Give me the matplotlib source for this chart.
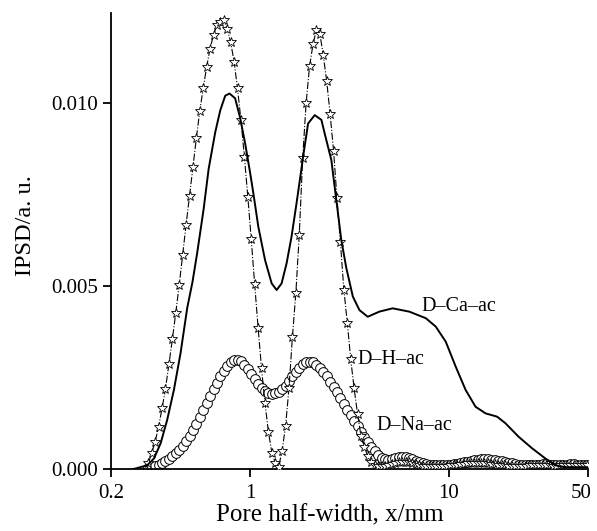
import numpy as np
import matplotlib
matplotlib.use('Agg')
import matplotlib.pyplot as plt
import matplotlib.transforms as mtransforms
from matplotlib.ticker import FixedLocator, FixedFormatter, NullLocator

plt.rcParams['font.family'] = ['Liberation Serif', 'DejaVu Serif']
plt.rcParams['mathtext.fontset'] = 'stix'

# sampling grid of the measured curves (log-spaced pore half-widths)
x_grid = 0.308 * 1.0405 ** np.arange(129)

h_ac = [0.00016, 0.00044, 0.00075, 0.00116, 0.00166, 0.00219, 0.00287, 0.00354, 0.00427, 0.00503,
        0.00585, 0.00667, 0.00746, 0.00826, 0.00904, 0.00979, 0.01040, 0.01099, 0.01149, 0.01186,
        0.01213, 0.01222, 0.01227, 0.01202, 0.01166, 0.01113, 0.01040, 0.00953, 0.00853, 0.00744,
        0.00628, 0.00505, 0.00386, 0.00275, 0.00181, 0.00102, 0.00045, 0.00017, 0.00006, 0.00050,
        0.00117, 0.00220, 0.00360, 0.00480, 0.00640, 0.00850, 0.01000, 0.01100, 0.01160, 0.01200,
        0.01190, 0.01130, 0.01060, 0.00970, 0.00870, 0.00740, 0.00620, 0.00490, 0.00400, 0.00300,
        0.00220, 0.00150, 0.00090, 0.00060, 0.00035, 0.00020, 0.00012, 0.00008, 0.00007, 0.00008,
        0.00010, 0.00013, 0.00016, 0.00018, 0.00019, 0.00019, 0.00018, 0.00016, 0.00013, 0.00011,
        0.00009, 0.00008, 0.00008, 0.00008, 0.00008, 0.00008, 0.00009, 0.00009, 0.00010, 0.00011,
        0.00012, 0.00013, 0.00014, 0.00015, 0.00016, 0.00017, 0.00017, 0.00017, 0.00016, 0.00015,
        0.00014, 0.00013, 0.00012, 0.00011, 0.00010, 0.00009, 0.00009, 0.00008, 0.00008, 0.00008,
        0.00009, 0.00010, 0.00011, 0.00011, 0.00012, 0.00012, 0.00011, 0.00010, 0.00009, 0.00009,
        0.00010, 0.00011, 0.00012, 0.00012, 0.00011, 0.00010, 0.00010, 0.00011, 0.00012]

na_ac = [0.00003, 0.00005, 0.00008, 0.00012, 0.00017, 0.00022, 0.00028, 0.00035, 0.00043, 0.00052,
         0.00063, 0.00076, 0.00091, 0.00107, 0.00124, 0.00142, 0.00160, 0.00180, 0.00199, 0.00218,
         0.00236, 0.00253, 0.00268, 0.00281, 0.00291, 0.00297, 0.00298, 0.00294, 0.00285, 0.00273,
         0.00259, 0.00245, 0.00232, 0.00221, 0.00213, 0.00208, 0.00206, 0.00207, 0.00211, 0.00218,
         0.00228, 0.00240, 0.00253, 0.00266, 0.00277, 0.00286, 0.00291, 0.00293, 0.00291, 0.00285,
         0.00277, 0.00266, 0.00253, 0.00239, 0.00224, 0.00209, 0.00194, 0.00178, 0.00162, 0.00147,
         0.00132, 0.00117, 0.00102, 0.00088, 0.00074, 0.00061, 0.00049, 0.00039, 0.00031, 0.00026,
         0.00025, 0.00027, 0.00030, 0.00032, 0.00033, 0.00032, 0.00030, 0.00027, 0.00023, 0.00019,
         0.00016, 0.00014, 0.00012, 0.00011, 0.00010, 0.00010, 0.00010, 0.00011, 0.00012, 0.00013,
         0.00014, 0.00016, 0.00018, 0.00020, 0.00022, 0.00024, 0.00025, 0.00026, 0.00026, 0.00026,
         0.00025, 0.00024, 0.00023, 0.00021, 0.00019, 0.00017, 0.00015, 0.00013, 0.00012, 0.00011,
         0.00010, 0.00010, 0.00010, 0.00011, 0.00012, 0.00013, 0.00013, 0.00012, 0.00011, 0.00010,
         0.00010, 0.00011, 0.00012, 0.00013, 0.00013, 0.00012, 0.00011, 0.00011, 0.00012]

ca_x = [0.260, 0.304, 0.329, 0.355, 0.383, 0.414, 0.447, 0.483, 0.513, 0.542, 0.584, 0.619,
        0.668, 0.708, 0.750, 0.788, 0.841, 0.891, 0.944, 1.000, 1.039, 1.100, 1.189, 1.284,
        1.360, 1.440, 1.526, 1.616, 1.712, 1.799, 1.847, 1.957, 2.114, 2.283, 2.371, 2.562,
        2.713, 2.874, 3.044, 3.286, 3.548, 3.904, 4.467, 5.206, 6.310, 7.647, 8.581, 9.628,
        10.80, 12.12, 13.60, 15.26, 17.44, 19.21, 22.39, 26.10, 30.45, 34.17, 38.33, 50.0]
ca_ac = [0.0, 0.00010, 0.00029, 0.00070, 0.00134, 0.00216, 0.00316, 0.00440, 0.00510, 0.00590,
         0.00710, 0.00820, 0.00920, 0.00980, 0.01020, 0.01026, 0.01013, 0.00960, 0.00890, 0.00810,
         0.00753, 0.00662, 0.00571, 0.00507, 0.00489, 0.00507, 0.00562, 0.00635, 0.00726, 0.00808,
         0.00853, 0.00944, 0.00967, 0.00954, 0.00917, 0.00844, 0.00735, 0.00626, 0.00550, 0.00471,
         0.00434, 0.00416, 0.00430, 0.00439, 0.00430, 0.00412, 0.00389, 0.00348, 0.00280, 0.00216,
         0.00170, 0.00152, 0.00143, 0.00125, 0.00088, 0.00057, 0.00029, 0.00010, 0.00005, 0.00005]

fig = plt.figure(figsize=(5.97, 5.31), dpi=100)
ax = fig.add_axes([0.186, 0.1168, 0.799, 0.8587])

ax.plot(x_grid, na_ac, linestyle='none', marker='o', ms=7, mfc='white', mec='black', mew=0.7, zorder=2)
ax.plot(x_grid, h_ac, linestyle='-.', color='black', lw=0.8, marker='*', ms=7.5,
        mfc='white', mec='black', mew=0.6, zorder=3)
ax.plot(ca_x, ca_ac, color='black', lw=1.4, zorder=4)

ax.set_xscale('log')
ax.set_xlim(0.2, 50)
ax.set_ylim(0, 0.01246)
ax.xaxis.set_major_locator(FixedLocator([0.2, 1, 10, 50]))
ax.xaxis.set_major_formatter(FixedFormatter(['0.2', '1', '10', '50']))
ax.xaxis.set_minor_locator(NullLocator())
ax.set_yticks([0.0, 0.005, 0.010])
ax.set_yticklabels(['0.000', '0.005', '0.010'])

for s in ['top', 'right']:
    ax.spines[s].set_visible(False)
for s in ['left', 'bottom']:
    ax.spines[s].set_linewidth(1.3)
ax.tick_params(direction='out', length=6, width=1.3, labelsize=15)
ax.tick_params(axis='x', pad=5)

# last x tick label sits a little to the left of its tick, as in the original
lab = ax.get_xticklabels()[-1]
lab.set_transform(lab.get_transform() + mtransforms.ScaledTranslation(-7 / 100, 0, fig.dpi_scale_trans))

ax.set_xlabel('Pore half-width, x/mm', fontsize=18)
ax.set_ylabel('IPSD/a. u.', fontsize=17.5)
ax.xaxis.set_label_coords(0.459, -0.078)
ax.yaxis.set_label_coords(-0.157, 0.533)

ax.text(7.3, 0.00445, 'D–Ca–ac', fontsize=14.5, va='center', ha='left')
ax.text(3.45, 0.00300, 'D–H–ac', fontsize=14.5, va='center', ha='left')
ax.text(4.3, 0.00120, 'D–Na–ac', fontsize=14.5, va='center', ha='left')

fig.savefig('out.png', dpi=100)
